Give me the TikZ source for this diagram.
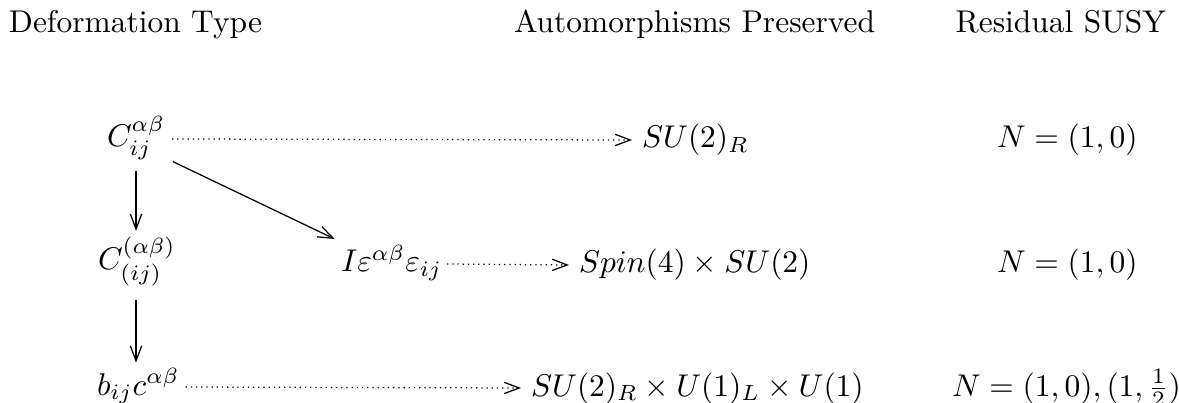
\documentclass[tikz,border=0pt]{standalone}
\usetikzlibrary{arrows.meta}
\begin{document}
\begin{tikzpicture}[x=0.318pt,y=-0.318pt,
  lbl/.style={inner sep=0pt,outer sep=0pt},
  solidarrow/.style={line width=0.4pt,-{Straight Barb[length=4.8pt,width=3.6pt]}},
  dotarrow/.style={line width=0.4pt,dash pattern=on 0.4pt off 1.25pt,-{Straight Barb[length=4.8pt,width=3.6pt]}}]
\useasboundingbox (0,0) rectangle (1179,403);
% headers
\node[lbl,anchor=base west] (h1) at (9,33) {Deformation Type};
\node[lbl,anchor=base west] (h2) at (514,33) {Automorphisms Preserved};
\node[lbl,anchor=base east] (h3) at (1166,33) {Residual SUSY};
% row 1
\node[lbl,anchor=base west] (c1) at (107,147) {$C^{\alpha\beta}_{ij}$};
\node[lbl,anchor=base west] (s1) at (642,148) {$SU(2)_R$};
\node[lbl,anchor=base west] (n1) at (997,148) {$N=(1,0)$};
% row 2
\node[lbl,anchor=base west] (c2) at (98,270) {$C^{(\alpha\beta)}_{(ij)}$};
\node[lbl,anchor=base west] (e2) at (341,272) {$I\varepsilon^{\alpha\beta}\varepsilon_{ij}$};
\node[lbl,anchor=base west] (s2) at (579,273) {$Spin(4)\times SU(2)$};
\node[lbl,anchor=base west] (n2) at (997,273) {$N=(1,0)$};
% row 3
\node[lbl,anchor=base west] (b3) at (97,395) {$b_{ij}c^{\alpha\beta}$};
\node[lbl,anchor=base west] (s3) at (531,396) {$SU(2)_R\times U(1)_L\times U(1)$};
\node[lbl,anchor=base west] (n3) at (952,396) {$N=(1,0),(1,\frac{1}{2})$};
% connectors
\draw[dotarrow] ([shift={(7,-8)}]c1.base east) -- ([shift={(-10,-8)}]s1.base west);
\draw[dotarrow] ([shift={(5,-8)}]e2.base east) -- ([shift={(-10,-8)}]s2.base west);
\draw[dotarrow] ([shift={(6,-8)}]b3.base east) -- ([shift={(-10,-8)}]s3.base west);
\draw[solidarrow] ([yshift=-3.4pt]c1.south) -- ([yshift=2pt]c1.south |- c2.north);
\draw[solidarrow] ([shift={(2.5pt,-0.5pt)}]c1.south east) -- ([shift={(-2pt,2pt)}]e2.north west);
\draw[solidarrow] ([yshift=-4.3pt]c1.south |- c2.south) -- ([yshift=1.8pt]c1.south |- b3.north);
\end{tikzpicture}
\end{document}
